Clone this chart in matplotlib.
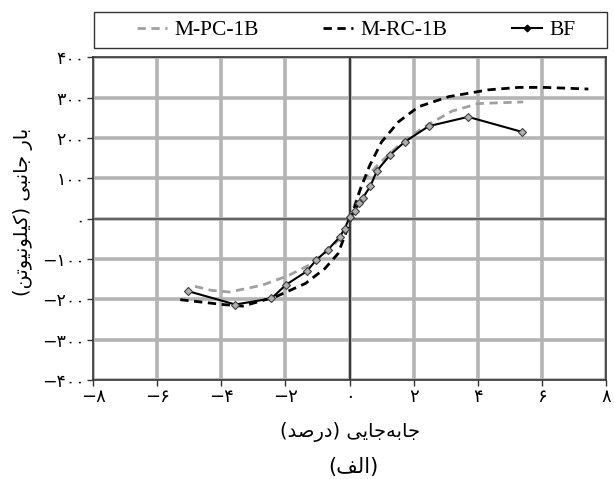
import matplotlib.pyplot as plt
from matplotlib.patches import Rectangle

# data
pc_x = [-4.82, -4.3, -3.74, -2.72, -1.9, -1.18, -0.67, -0.26, 0.0, 0.44, 0.87, 1.27, 1.73, 2.46, 3.19, 4.02, 5.42]
pc_y = [-168, -178, -182, -165, -141, -112, -79, -46, 0, 95, 132, 162, 195, 233, 266, 285, 289]

rc_x = [-5.28, -3.95, -3.33, -2.31, -1.38, -0.77, -0.36, -0.1, 0.05, 0.31, 0.62, 1.0, 1.53, 2.15, 3.09, 4.33, 5.27, 6.1, 7.45]
rc_y = [-201, -213, -217, -194, -161, -124, -87, -33, 0, 67, 130, 190, 240, 277, 302, 319, 325, 325, 321]

bf_x = [-5.03, -3.56, -2.44, -1.98, -1.34, -1.03, -0.67, -0.31, -0.15, 0.0, 0.16, 0.3, 0.42, 0.65, 0.85, 1.27, 1.72, 2.47, 3.7, 5.37]
bf_y = [-180, -213, -198, -164, -131, -102, -77, -46, -25, 3, 19, 38, 52, 80, 118, 158, 190, 229, 252, 215]

fa = '۰۱۲۳۴۵۶۷۸۹'
def fa_num(v):
    s = ''.join(fa[int(c)] for c in str(abs(v)))
    return ('\u2212' + s) if v < 0 else s

# presentation forms: isolated, final, initial, medial
FORMS = {
    'ا': ('\uFE8D', '\uFE8E', None, None),
    'ب': ('\uFE8F', '\uFE90', '\uFE91', '\uFE92'),
    'ت': ('\uFE95', '\uFE96', '\uFE97', '\uFE98'),
    'ج': ('\uFE9D', '\uFE9E', '\uFE9F', '\uFEA0'),
    'د': ('\uFEA9', '\uFEAA', None, None),
    'ر': ('\uFEAD', '\uFEAE', None, None),
    'ص': ('\uFEB9', '\uFEBA', '\uFEBB', '\uFEBC'),
    'ف': ('\uFED1', '\uFED2', '\uFED3', '\uFED4'),
    'ک': ('\uFB8E', '\uFB8F', '\uFB90', '\uFB91'),
    'ل': ('\uFEDD', '\uFEDE', '\uFEDF', '\uFEE0'),
    'ن': ('\uFEE5', '\uFEE6', '\uFEE7', '\uFEE8'),
    'ه': ('\uFEE9', '\uFEEA', '\uFEEB', '\uFEEC'),
    'و': ('\uFEED', '\uFEEE', None, None),
    'ی': ('\uFBFC', '\uFBFD', '\uFBFE', '\uFBFF'),
}

def rtl(text):
    out = []
    for i, ch in enumerate(text):
        if ch not in FORMS:
            if ch != '\u200c':
                out.append(ch)
            continue
        prev = i > 0 and text[i-1] in FORMS and FORMS[text[i-1]][2] is not None
        nxt = i + 1 < len(text) and text[i+1] in FORMS and FORMS[ch][2] is not None
        iso, fin, ini, med = FORMS[ch]
        if prev and nxt:
            out.append(med)
        elif prev:
            out.append(fin)
        elif nxt:
            out.append(ini)
        else:
            out.append(iso)
    s = ''.join(reversed(out))
    return s.translate(str.maketrans('()', ')('))

plt.rcParams['font.family'] = ['DejaVu Sans']

fig = plt.figure(figsize=(6.14, 4.79), dpi=100)
ax = fig.add_axes([0.1515, 0.2067, 0.8355, 0.674])

ax.plot(pc_x, pc_y, color='#a0a0a0', lw=2, ls=(0, (3, 2)), label='M-PC-1B', zorder=3)
ax.plot(rc_x, rc_y, color='black', lw=2, ls=(0, (3, 2)), label='M-RC-1B', zorder=3)
ax.plot(bf_x, bf_y, color='black', lw=1.5, marker='D', ms=4.5, mfc='#b0b0b0', mec='#404040',
        mew=0.8, label='BF', zorder=4)

ax.axvline(0, color='#222222', lw=1.2, zorder=2)
ax.axhline(0, color='#555555', lw=1.2, zorder=2)

ax.set_xlim(-8, 8)
ax.set_ylim(-400, 400)
xt = list(range(-8, 9, 2))
yt = list(range(-400, 401, 100))
ax.set_xticks(xt)
ax.set_yticks(yt)
ax.set_xticklabels([fa_num(v) for v in xt], fontsize=13)
ax.set_yticklabels([fa_num(v) for v in yt], fontsize=12.5)
ax.grid(True, color='#b4b4b4', lw=2.6, zorder=0)
ax.set_axisbelow(True)
ax.tick_params(direction='out', length=4, width=1, color='#333333', pad=2)
for s in ax.spines.values():
    s.set_color('#333333')
    s.set_linewidth(1.2)

ax.set_xlabel(rtl('جابه\u200cجایی (درصد)'), fontsize=14)
ax.xaxis.set_label_coords(0.5, -0.13)
ax.set_ylabel(rtl('بار جانبی (کیلونیوتن)'), fontsize=14)
ax.yaxis.set_label_coords(-0.117, 0.52)
fig.text(0.575, 0.025, rtl('(الف)'), ha='center', va='center', fontsize=15)

# legend box spans the plot width, entries centred inside it
fig.patches.append(Rectangle((94 / 614, 1 - 48 / 479), 513 / 614, 36 / 479, transform=fig.transFigure,
                             fill=False, ec='#333333', lw=1))
leg = fig.legend(loc='center', bbox_to_anchor=(0.58, 1 - 30 / 479), ncol=3, frameon=False,
                 prop={'family': 'Liberation Serif', 'size': 15.5}, handlelength=1.4,
                 handletextpad=0.33, columnspacing=3.0)
bf_h = leg.legend_handles[2]
bf_h.set_markerfacecolor('black')
bf_h.set_markeredgecolor('black')
bf_h.set_markersize(3.5)

fig.savefig('out.png', dpi=100)
